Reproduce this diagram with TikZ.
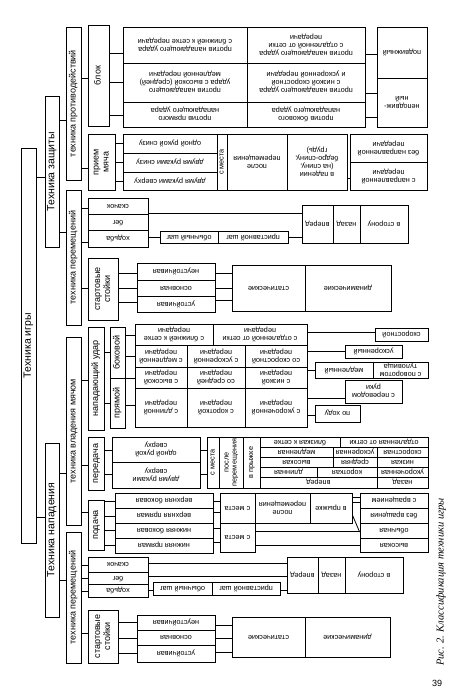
\documentclass[tikz,border=0pt]{standalone}
\usepackage{fontspec}
\setmainfont{Liberation Sans}
\newfontfamily\capfont{Liberation Serif}
\usepackage{graphicx}

\tikzset{
  box/.style={draw, line width=0.8pt, inner sep=0pt, align=center,
    font=\fontsize{7.3}{8}\selectfont},
  head/.style={box, font=\fontsize{10.5}{12}\selectfont},
  sub/.style={box, font=\fontsize{9}{10}\selectfont},
  wire/.style={line width=0.8pt},
}
% text turned upside down / reading upwards
\newcommand\dtext[1]{\rotatebox{180}{\begin{tabular}{@{}c@{}}#1\end{tabular}}}
\newcommand\utext[1]{\rotatebox{90}{\begin{tabular}{@{}c@{}}#1\end{tabular}}}
% box from (x1,y1) to (x2,y2)
\newcommand\cell[7][]{%
  \node[box,#1,minimum width={(#5-#3)*1pt},minimum height={(#6-#4)*1pt}]
    (#2) at ({(#3+#5)/2},{(#4+#6)/2}) {#7};}
% horizontal link at height y
\newcommand\conn[3]{\draw[wire] (#1.east |- 0,#3) -- (#2.west |- 0,#3);}

\begin{document}
\begin{tikzpicture}[x=1pt,y=-1pt]
  \useasboundingbox (0,0) rectangle (453,693);

  % top level
  \cell[head]{igra}{21}{148}{36}{543}{\utext{Техника игры}}
  \cell[head]{zash}{45}{96}{59}{247}{\utext{Техника защиты}}
  \cell[head]{napad}{45}{443}{59}{617}{\utext{Техника нападения}}
  \conn{igra}{zash}{177}
  \conn{igra}{napad}{517}

  % second level
  \cell[sub]{zprot}{66}{27}{81}{180}{\utext{техника противодействий}}
  \cell[sub]{zper}{66}{190}{81}{325}{\utext{техника перемещений}}
  \cell[sub]{nvlad}{66}{337}{81}{525}{\utext{техника владения мячом}}
  \cell[sub]{nper}{66}{532}{81}{663}{\utext{техника перемещений}}
  \conn{zash}{zprot}{120}
  \conn{zash}{zper}{232}
  \conn{napad}{nvlad}{473}
  \conn{napad}{nper}{580}

  % defence: block
  \cell[sub]{blok}{88}{25}{109}{126}{\utext{блок}}
  \conn{zprot}{blok}{78}
  \cell{b11}{123}{27}{247}{63}{\dtext{против нападающего удара\\с ближней к сетке передачи}}
  \cell{b12}{247}{27}{365}{63}{\dtext{против нападающего удара\\с отдаленной от сетки\\передачи}}
  \cell{b21}{123}{63}{247}{102}{\dtext{против нападающего\\удара с высокой (средней)\\медленной передачи}}
  \cell{b22}{247}{63}{365}{102}{\dtext{против нападающего удара\\с низкой скоростной\\и ускоренной передачи}}
  \cell{b31}{123}{102}{247}{127}{\dtext{против прямого\\нападающего удара}}
  \cell{b32}{247}{102}{365}{127}{\dtext{против бокового\\нападающего удара}}
  \cell{podv}{377}{27}{427}{78}{\dtext{подвижный}}
  \cell{nepodv}{377}{78}{427}{127}{\dtext{неподвиж-\\ный}}
  \conn{blok}{b11}{53}
  \conn{blok}{b21}{82}
  \conn{blok}{b31}{115}
  \conn{b12}{podv}{54}
  \conn{b22}{nepodv}{93}
  \conn{b32}{nepodv}{117}

  % defence: reception
  \cell[sub]{priem}{88}{134}{115}{190}{\utext{прием\\мяча}}
  \conn{zprot}{priem}{168}
  \cell{p1}{123}{134}{217}{153}{\dtext{одной рукой снизу}}
  \cell{p2}{123}{153}{217}{172}{\dtext{двумя руками снизу}}
  \cell{p3}{123}{172}{217}{190}{\dtext{двумя руками сверху}}
  \cell{pmesto}{217}{134}{227}{190}{\utext{с места}}
  \cell{pposle}{227}{134}{287}{190}{\dtext{после\\перемещения}}
  \cell{ppad}{287}{134}{347}{190}{\dtext{в падении\\(на спину,\\бедро-спину,\\грудь)}}
  \cell{pbez}{350}{134}{427}{162}{\dtext{без направленной\\передачи}}
  \cell{pnapr}{350}{162}{427}{190}{\dtext{с направленной\\передачи}}
  \conn{priem}{p1}{143}
  \conn{priem}{p2}{162}
  \conn{priem}{p3}{181}
  \conn{ppad}{pnapr}{178}

  % defence: moving
  \cell{zs1}{88}{198}{148}{214}{\dtext{скачок}}
  \cell{zs2}{88}{214}{148}{230}{\dtext{бег}}
  \cell{zs3}{88}{230}{148}{247}{\dtext{ходьба}}
  \cell{zobych}{160}{231}{218}{243}{\dtext{обычный шаг}}
  \cell{zprist}{218}{231}{288}{243}{\dtext{приставной шаг}}
  \cell{zvp}{302}{205}{333}{243}{\dtext{вперед}}
  \cell{znaz}{333}{205}{360}{243}{\dtext{назад}}
  \cell{zstor}{360}{205}{408}{243}{\dtext{в сторону}}
  \conn{zper}{zs1}{208}
  \conn{zper}{zs3}{242}
  \conn{zs1}{zvp}{213}
  \conn{zs3}{zobych}{237}
  \conn{zprist}{zvp}{237}

  % defence: stances
  \cell[sub]{zst}{88}{258}{118}{320}{\utext{стартовые\\стойки}}
  \cell{zn1}{137}{263}{215}{280}{\dtext{неустойчивая}}
  \cell{zn2}{137}{280}{215}{296}{\dtext{основная}}
  \cell{zn3}{137}{296}{215}{312}{\dtext{устойчивая}}
  \cell{zstat}{232}{265}{305}{311}{\dtext{статические}}
  \cell{zdyn}{305}{265}{391}{311}{\dtext{динамические}}
  \conn{zper}{zst}{288}
  \conn{zst}{zn1}{273}
  \conn{zst}{zn2}{288}
  \conn{zst}{zn3}{302}
  \conn{zn1}{zstat}{273}
  \conn{zn2}{zstat}{288}
  \conn{zn3}{zstat}{300}

  % attack: spike
  \cell[sub]{nudar}{88}{327}{104}{430}{\utext{нападающий удар}}
  \cell[sub]{nbok}{110}{327}{125}{378}{\utext{боковой}}
  \cell[sub]{npr}{110}{378}{125}{428}{\utext{прямой}}
  \conn{nvlad}{nudar}{380}
  \conn{nudar}{nbok}{352}
  \conn{nudar}{npr}{403}
  \cell{t11}{135}{324}{213}{345}{\dtext{с ближней к сетке\\передачи}}
  \cell{t12}{213}{324}{307}{345}{\dtext{с отдаленной от сетки\\передачи}}
  \cell{t21}{135}{345}{187}{367}{\dtext{с медленной\\передачи}}
  \cell{t22}{187}{345}{245}{367}{\dtext{с ускоренной\\передачи}}
  \cell{t23}{245}{345}{307}{367}{\dtext{со скоростной\\передачи}}
  \cell{t31}{135}{367}{187}{388}{\dtext{с высокой\\передачи}}
  \cell{t32}{187}{367}{245}{388}{\dtext{со средней\\передачи}}
  \cell{t33}{245}{367}{307}{388}{\dtext{с низкой\\передачи}}
  \cell{t41}{135}{388}{187}{427}{\dtext{с длинной\\передачи}}
  \cell{t42}{187}{388}{245}{427}{\dtext{с короткой\\передачи}}
  \cell{t43}{245}{388}{307}{427}{\dtext{с укороченной\\передачи}}
  \conn{nbok}{t11}{335}
  \conn{nbok}{t21}{356}
  \conn{npr}{t31}{378}
  \conn{npr}{t41}{405}
  \cell{ksk}{375}{328}{428}{341}{\dtext{скоростной}}
  \cell{kusk}{345}{345}{402}{358}{\dtext{ускоренный}}
  \cell{kmed}{315}{362}{373}{378}{\dtext{медленный}}
  \cell{kpov}{373}{362}{428}{378}{\dtext{с поворотом\\туловища}}
  \cell{kperev}{345}{380}{402}{403}{\dtext{с переводом\\руки}}
  \cell{kpoh}{315}{405}{360}{422}{\dtext{по ходу}}
  \conn{t12}{ksk}{332}
  \conn{t23}{kusk}{351}
  \conn{t33}{kmed}{370}
  \conn{t43}{kperev}{398}
  \conn{t43}{kpoh}{415}

  % attack: pass
  \cell[sub]{npered}{88}{437}{104}{490}{\utext{передача}}
  \conn{nvlad}{npered}{465}
  \cell{pe1}{112}{437}{200}{462}{\dtext{одной рукой\\сверху}}
  \cell{pe2}{112}{462}{200}{488}{\dtext{двумя руками\\сверху}}
  \conn{npered}{pe1}{450}
  \conn{npered}{pe2}{474}
  \cell{pem}{207}{437}{219}{488}{\utext{с места}}
  \cell{pep}{219}{437}{243}{488}{\utext{после\\перемещения}}
  \cell{pej}{243}{437}{260}{488}{\utext{в прыжке}}
  \conn{pe1}{pem}{450}
  \conn{pe2}{pem}{474}
  \cell{q11}{260}{437}{340}{447}{\dtext{близкая к сетке}}
  \cell{q12}{340}{437}{428}{447}{\dtext{отдаленная от сетки}}
  \cell{q21}{260}{447}{333}{457}{\dtext{медленная}}
  \cell{q22}{333}{447}{377}{457}{\dtext{ускоренная}}
  \cell{q23}{377}{447}{428}{457}{\dtext{скоростная}}
  \cell{q31}{260}{457}{333}{467}{\dtext{высокая}}
  \cell{q32}{333}{457}{377}{467}{\dtext{средняя}}
  \cell{q33}{377}{457}{428}{467}{\dtext{низкая}}
  \cell{q41}{260}{467}{317}{477}{\dtext{длинная}}
  \cell{q42}{317}{467}{377}{477}{\dtext{короткая}}
  \cell{q43}{377}{467}{428}{477}{\dtext{укороченная}}
  \cell{q51}{260}{477}{377}{488}{\dtext{вперед}}
  \cell{q52}{377}{477}{428}{488}{\dtext{назад}}

  % attack: serve
  \cell[sub]{npod}{88}{500}{104}{550}{\utext{подача}}
  \conn{nvlad}{npod}{512}
  \cell{s1}{115}{493}{213}{508}{\dtext{верхняя боковая}}
  \cell{s2}{115}{508}{213}{523}{\dtext{верхняя прямая}}
  \cell{s3}{115}{523}{213}{538}{\dtext{нижняя боковая}}
  \cell{s4}{115}{538}{213}{553}{\dtext{нижняя прямая}}
  \conn{npod}{s1}{501}
  \conn{npod}{s2}{516}
  \conn{npod}{s3}{530}
  \conn{npod}{s4}{545}
  \cell{sm1}{220}{493}{255}{523}{\dtext{с места}}
  \cell{sm2}{220}{523}{255}{552}{\dtext{с места}}
  \cell{spos}{255}{493}{310}{523}{\dtext{после\\перемещения}}
  \cell{spr}{310}{493}{352}{523}{\dtext{в прыжке}}
  \cell{sv1}{360}{493}{428}{508}{\dtext{с вращением}}
  \cell{sv2}{360}{508}{428}{523}{\dtext{без вращения}}
  \cell{sv3}{360}{523}{428}{538}{\dtext{обычная}}
  \cell{sv4}{360}{538}{428}{552}{\dtext{высокая}}
  \conn{s1}{sm1}{501}
  \conn{s2}{sm1}{512}
  \conn{s3}{sm2}{528}
  \conn{s4}{sm2}{542}
  \conn{spr}{sv1}{497}
  \conn{spr}{sv2}{502}
  \draw[wire] (spr.east |- 0,515) -- (sv3.west |- 0,532);
  \conn{sm2}{sv3}{531}
  \conn{sm2}{sv4}{545}

  % attack: moving
  \cell{ns1}{88}{557}{148}{572}{\dtext{скачок}}
  \cell{ns2}{88}{572}{148}{584}{\dtext{бег}}
  \cell{ns3}{88}{584}{148}{597}{\dtext{ходьба}}
  \cell{nobych}{153}{582}{212}{595}{\dtext{обычный шаг}}
  \cell{nprist}{212}{582}{280}{595}{\dtext{приставной шаг}}
  \cell{nvp}{287}{557}{318}{593}{\dtext{вперед}}
  \cell{nnaz}{318}{557}{345}{593}{\dtext{назад}}
  \cell{nstor}{345}{557}{403}{593}{\dtext{в сторону}}
  \conn{nper}{ns1}{565}
  \conn{nper}{ns2}{578}
  \conn{nper}{ns3}{591}
  \conn{ns1}{nvp}{563}
  \conn{ns2}{nvp}{576}
  \conn{ns3}{nobych}{590}
  \conn{nprist}{nvp}{590}

  % attack: stances
  \cell[sub]{nst}{88}{610}{118}{663}{\utext{стартовые\\стойки}}
  \cell{nn1}{137}{615}{215}{630}{\dtext{неустойчивая}}
  \cell{nn2}{137}{630}{215}{645}{\dtext{основная}}
  \cell{nn3}{137}{645}{215}{662}{\dtext{устойчивая}}
  \cell{nstat}{232}{617}{305}{657}{\dtext{статические}}
  \cell{ndyn}{305}{617}{390}{657}{\dtext{динамические}}
  \conn{nper}{nst}{633}
  \conn{nst}{nn1}{622}
  \conn{nst}{nn2}{638}
  \conn{nst}{nn3}{653}
  \conn{nn1}{nstat}{625}
  \conn{nn2}{nstat}{638}
  \conn{nn3}{nstat}{652}

  % caption
  \node[rotate=90, font=\capfont\itshape\fontsize{10.5}{12}\selectfont] (cap) at (441,582)
    {Рис. 2. Классификация техники игры};
  \node[font=\fontsize{9}{10}\selectfont] (pnum) at (437,683) {39};
\end{tikzpicture}
\end{document}
